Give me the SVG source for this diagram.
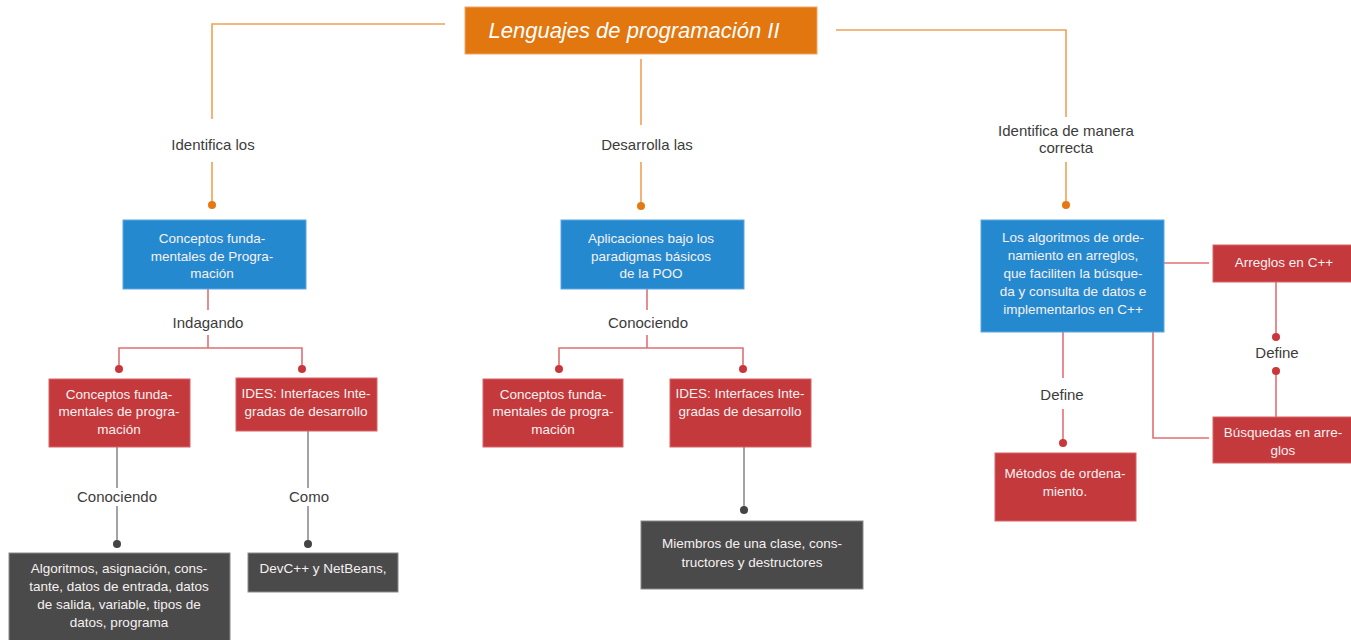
<svg xmlns="http://www.w3.org/2000/svg" width="1351" height="640" viewBox="0 0 1351 640">
<style>
text{font-family:"Liberation Sans",Arial,sans-serif}
.bt{font-size:13.5px;fill:#f6f1f1;text-anchor:middle}
.lb{font-size:15px;fill:#3c3c3c;text-anchor:middle}
.blue{fill:#2589d0;stroke:#5aa8e0;stroke-width:1}
.red{fill:#c4393c;stroke:#d86466;stroke-width:1}
.dark{fill:#4a4a4a;stroke:#8a8a8a;stroke-width:1}
.lo{stroke:#f0a156;stroke-width:1.6;fill:none}
.lr{stroke:#e07073;stroke-width:1.6;fill:none}
.lg{stroke:#8c8c8c;stroke-width:1.6;fill:none}
.do{fill:#e57a12}
.dr{fill:#c9373b}
.dg{fill:#444}
</style>
<rect width="1351" height="640" fill="#fff"/>
<g id="connectors">
<polyline class="lo" points="445,24 212,24 212,119"/>
<line class="lo" x1="212" y1="162" x2="212" y2="205"/>
<line class="lo" x1="641" y1="59" x2="641" y2="125"/>
<line class="lo" x1="641" y1="162" x2="641" y2="205"/>
<polyline class="lo" points="836,30 1066,30 1066,117"/>
<line class="lo" x1="1066" y1="162" x2="1066" y2="205"/>
<circle class="do" cx="212" cy="205" r="4"/>
<circle class="do" cx="641" cy="206" r="4"/>
<circle class="do" cx="1066" cy="205" r="4"/>
<line class="lr" x1="208" y1="289" x2="208" y2="310"/>
<polyline class="lr" points="208,335 208,348"/>
<polyline class="lr" points="119,369 119,348 302,348 302,369"/>
<circle class="dr" cx="119" cy="369" r="4"/>
<circle class="dr" cx="302" cy="369" r="4"/>
<line class="lr" x1="647" y1="289" x2="647" y2="310"/>
<polyline class="lr" points="647,335 647,348"/>
<polyline class="lr" points="559,369 559,348 743,348 743,369"/>
<circle class="dr" cx="559" cy="369" r="4"/>
<circle class="dr" cx="743" cy="369" r="4"/>
<line class="lg" x1="117" y1="447" x2="117" y2="488"/>
<line class="lg" x1="117" y1="506" x2="117" y2="544"/>
<circle class="dg" cx="117" cy="544" r="4"/>
<line class="lg" x1="308" y1="431" x2="308" y2="488"/>
<line class="lg" x1="308" y1="506" x2="308" y2="544"/>
<circle class="dg" cx="308" cy="544" r="4"/>
<line class="lg" x1="744" y1="447" x2="744" y2="510"/>
<circle class="dg" cx="744" cy="510" r="4"/>
<line class="lr" x1="1164" y1="263" x2="1209" y2="263"/>
<line class="lr" x1="1276" y1="282" x2="1276" y2="337"/>
<circle class="dr" cx="1276" cy="337" r="4"/>
<line class="lr" x1="1276" y1="371" x2="1276" y2="417"/>
<circle class="dr" cx="1276" cy="371" r="4"/>
<polyline class="lr" points="1153,332 1153,438 1209,438"/>
<line class="lr" x1="1063" y1="332" x2="1063" y2="378"/>
<line class="lr" x1="1063" y1="409" x2="1063" y2="443"/>
<circle class="dr" cx="1063" cy="443" r="4"/>
</g>
<g id="labels">
<text class="lb" x="213" y="150">Identifica los</text>
<text class="lb" x="647" y="150">Desarrolla las</text>
<text class="lb" x="1066" y="136">Identifica de manera</text>
<text class="lb" x="1066" y="153">correcta</text>
<text class="lb" x="208" y="328">Indagando</text>
<text class="lb" x="648" y="328">Conociendo</text>
<text class="lb" x="117" y="502">Conociendo</text>
<text class="lb" x="309" y="502">Como</text>
<text class="lb" x="1277" y="358">Define</text>
<text class="lb" x="1062" y="400">Define</text>
</g>
<g id="title">
<rect x="465" y="7" width="352" height="47" fill="#e2760f" stroke="#f0a868" stroke-width="1"/>
<text x="634" y="38" font-size="22" font-style="italic" fill="#fff" text-anchor="middle">Lenguajes de programación II</text>
</g>
<g id="n-conceptos">
<rect class="blue" x="123" y="220" width="183" height="69"/>
<text class="bt" x="212" y="243">Conceptos funda-</text>
<text class="bt" x="212" y="261">mentales de Progra-</text>
<text class="bt" x="212" y="278">mación</text>
</g>
<g id="n-aplicaciones">
<rect class="blue" x="561" y="220" width="183" height="69"/>
<text class="bt" x="651" y="243">Aplicaciones bajo los</text>
<text class="bt" x="651" y="261">paradigmas básicos</text>
<text class="bt" x="651" y="278">de la POO</text>
</g>
<g id="n-algoritmos">
<rect class="blue" x="981" y="220" width="183" height="112"/>
<text class="bt" x="1073" y="242">Los algoritmos de orde-</text>
<text class="bt" x="1073" y="260">namiento en arreglos,</text>
<text class="bt" x="1073" y="278">que faciliten la búsque-</text>
<text class="bt" x="1073" y="296">da y consulta de datos e</text>
<text class="bt" x="1073" y="314">implementarlos en C++</text>
</g>
<g id="n-l1">
<rect class="red" x="49" y="379" width="141" height="68"/>
<text class="bt" x="119" y="399">Conceptos funda-</text>
<text class="bt" x="119" y="416">mentales de progra-</text>
<text class="bt" x="119" y="434">mación</text>
</g>
<g id="n-l2">
<rect class="red" x="236" y="378" width="141" height="53"/>
<text class="bt" x="306" y="398">IDES: Interfaces Inte-</text>
<text class="bt" x="306" y="416">gradas de desarrollo</text>
</g>
<g id="n-m1">
<rect class="red" x="483" y="379" width="140" height="68"/>
<text class="bt" x="553" y="399">Conceptos funda-</text>
<text class="bt" x="553" y="416">mentales de progra-</text>
<text class="bt" x="553" y="434">mación</text>
</g>
<g id="n-m2">
<rect class="red" x="670" y="379" width="141" height="68"/>
<text class="bt" x="740" y="398">IDES: Interfaces Inte-</text>
<text class="bt" x="740" y="416">gradas de desarrollo</text>
</g>
<g id="n-algasig">
<rect class="dark" x="9" y="553" width="221" height="92"/>
<text class="bt" x="119" y="573">Algoritmos, asignación, cons-</text>
<text class="bt" x="119" y="591">tante, datos de entrada, datos</text>
<text class="bt" x="119" y="609">de salida, variable, tipos de</text>
<text class="bt" x="119" y="627">datos, programa</text>
</g>
<g id="n-devc">
<rect class="dark" x="248" y="553" width="150" height="39"/>
<text class="bt" x="323" y="573">DevC++ y NetBeans,</text>
</g>
<g id="n-miembros">
<rect class="dark" x="641" y="521" width="222" height="68"/>
<text class="bt" x="752" y="548">Miembros de una clase, cons-</text>
<text class="bt" x="752" y="567">tructores y destructores</text>
</g>
<g id="n-arreglos">
<rect class="red" x="1213" y="245" width="140" height="37"/>
<text class="bt" x="1284" y="267">Arreglos en C++</text>
</g>
<g id="n-busquedas">
<rect class="red" x="1213" y="417" width="140" height="46"/>
<text class="bt" x="1283" y="437">Búsquedas en arre-</text>
<text class="bt" x="1283" y="455">glos</text>
</g>
<g id="n-metodos">
<rect class="red" x="995" y="453" width="141" height="68"/>
<text class="bt" x="1065" y="478">Métodos de ordena-</text>
<text class="bt" x="1065" y="496">miento.</text>
</g>
</svg>
